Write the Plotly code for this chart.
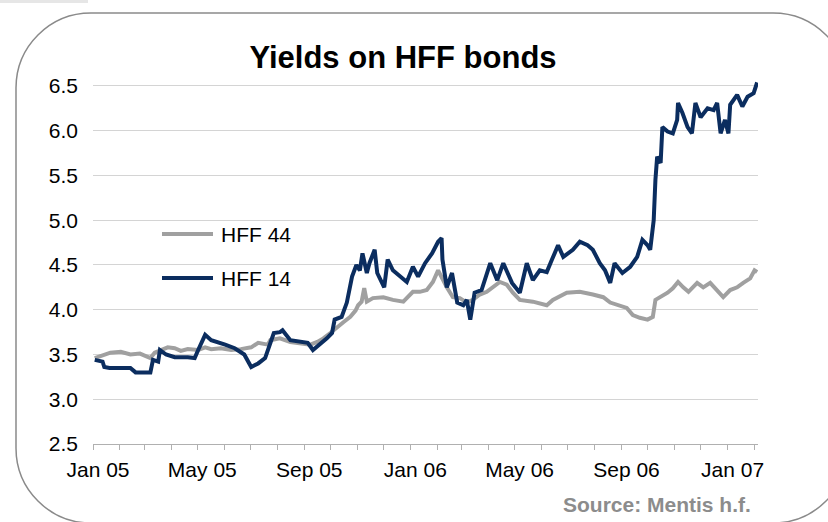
import plotly.graph_objects as go
import pandas as pd

# ---------------- data ----------------
hff44_dates = [
    "2005-01-03", "2005-01-21", "2005-02-02", "2005-02-13", "2005-02-24", "2005-03-08",
    "2005-03-13", "2005-03-28", "2005-04-05", "2005-04-12", "2005-04-20", "2005-05-02",
    "2005-05-10", "2005-05-17", "2005-05-28", "2005-06-09", "2005-06-20", "2005-07-02",
    "2005-07-10", "2005-07-21", "2005-07-24", "2005-08-04", "2005-08-16", "2005-08-27",
    "2005-09-08", "2005-09-16", "2005-09-23", "2005-10-01", "2005-10-09", "2005-10-16",
    "2005-10-24", "2005-10-30", "2005-11-02", "2005-11-06", "2005-11-09", "2005-11-12",
    "2005-11-19", "2005-12-01", "2005-12-12", "2005-12-24", "2005-12-29", "2006-01-04",
    "2006-01-12", "2006-01-20", "2006-01-27", "2006-02-02", "2006-02-12", "2006-02-19",
    "2006-02-27", "2006-03-07", "2006-03-14", "2006-03-22", "2006-03-30", "2006-04-06",
    "2006-04-14", "2006-04-22", "2006-04-29", "2006-05-07", "2006-05-22", "2006-06-07",
    "2006-06-14", "2006-06-30", "2006-07-15", "2006-07-30", "2006-08-11", "2006-08-19",
    "2006-08-30", "2006-09-07", "2006-09-14", "2006-09-22", "2006-10-01", "2006-10-07",
    "2006-10-10", "2006-10-16", "2006-10-24", "2006-10-30", "2006-11-05", "2006-11-11",
    "2006-11-17", "2006-11-27", "2006-12-04", "2006-12-12", "2006-12-20", "2006-12-27",
    "2007-01-04", "2007-01-12", "2007-01-19", "2007-01-27", "2007-02-01", "2007-02-04",
]
hff44_values = [
    3.46, 3.52, 3.53, 3.50, 3.51, 3.46,
    3.52, 3.58, 3.57, 3.54, 3.56, 3.55,
    3.58, 3.56, 3.57, 3.55, 3.56, 3.58,
    3.63, 3.61, 3.66, 3.68, 3.64, 3.63,
    3.61, 3.64, 3.68, 3.74, 3.81, 3.86,
    3.92, 3.99, 4.05, 4.09, 4.24, 4.09,
    4.13, 4.14, 4.11, 4.09, 4.14, 4.20,
    4.20, 4.22, 4.31, 4.44, 4.25, 4.14,
    4.13, 4.08, 4.11, 4.17, 4.20, 4.25,
    4.31, 4.28, 4.19, 4.11, 4.09, 4.05,
    4.11, 4.19, 4.20, 4.17, 4.14, 4.08,
    4.05, 4.02, 3.94, 3.91, 3.89, 3.92,
    4.11, 4.14, 4.19, 4.24, 4.31, 4.25,
    4.20, 4.30, 4.25, 4.30, 4.22, 4.14,
    4.22, 4.25, 4.30, 4.35, 4.44, 4.42,
]

hff14_dates = [
    "2005-01-03", "2005-01-12", "2005-01-14", "2005-01-20", "2005-02-13", "2005-02-19",
    "2005-03-08", "2005-03-11", "2005-03-17", "2005-03-19", "2005-03-26", "2005-04-05",
    "2005-04-20", "2005-04-28", "2005-05-02", "2005-05-10", "2005-05-17", "2005-05-25",
    "2005-06-02", "2005-06-13", "2005-06-20", "2005-06-24", "2005-07-02", "2005-07-10",
    "2005-07-18", "2005-07-28", "2005-08-04", "2005-08-07", "2005-08-16", "2005-08-27",
    "2005-09-05", "2005-09-11", "2005-09-19", "2005-09-27", "2005-10-03", "2005-10-06",
    "2005-10-14", "2005-10-20", "2005-10-26", "2005-10-31", "2005-11-04", "2005-11-07",
    "2005-11-12", "2005-11-15", "2005-11-21", "2005-11-24", "2005-12-02", "2005-12-06",
    "2005-12-12", "2005-12-20", "2005-12-28", "2006-01-04", "2006-01-10", "2006-01-18",
    "2006-01-26", "2006-02-02", "2006-02-06", "2006-02-07", "2006-02-12", "2006-02-18",
    "2006-02-24", "2006-03-03", "2006-03-07", "2006-03-11", "2006-03-16", "2006-03-24",
    "2006-03-30", "2006-04-03", "2006-04-11", "2006-04-18", "2006-04-28", "2006-05-07",
    "2006-05-15", "2006-05-22", "2006-05-30", "2006-06-07", "2006-06-13", "2006-06-20",
    "2006-06-26", "2006-07-07", "2006-07-15", "2006-07-24", "2006-07-30", "2006-08-07",
    "2006-08-13", "2006-08-19", "2006-08-24", "2006-09-02", "2006-09-11", "2006-09-19",
    "2006-09-25", "2006-10-01", "2006-10-04", "2006-10-08", "2006-10-10", "2006-10-12",
    "2006-10-16", "2006-10-18", "2006-10-24", "2006-10-30", "2006-11-04", "2006-11-05",
    "2006-11-10", "2006-11-16", "2006-11-21", "2006-11-25", "2006-12-01", "2006-12-09",
    "2006-12-16", "2006-12-20", "2006-12-24", "2006-12-29", "2007-01-02", "2007-01-04",
    "2007-01-12", "2007-01-18", "2007-01-24", "2007-01-31", "2007-02-04",
]
hff14_values = [
    3.44, 3.42, 3.36, 3.35, 3.35, 3.30,
    3.30, 3.44, 3.42, 3.55, 3.50, 3.47,
    3.47, 3.46, 3.55, 3.72, 3.66, 3.64,
    3.61, 3.57, 3.53, 3.50, 3.36, 3.40,
    3.46, 3.74, 3.75, 3.77, 3.66, 3.64,
    3.63, 3.55, 3.61, 3.68, 3.74, 3.89,
    3.92, 4.08, 4.37, 4.50, 4.44, 4.63,
    4.41, 4.52, 4.67, 4.41, 4.25, 4.56,
    4.44, 4.37, 4.31, 4.48, 4.37, 4.52,
    4.63, 4.76, 4.80, 4.56, 4.25, 4.41,
    4.08, 4.05, 4.11, 3.89, 4.19, 4.22,
    4.39, 4.52, 4.33, 4.52, 4.30, 4.19,
    4.52, 4.33, 4.44, 4.42, 4.56, 4.72,
    4.59, 4.67, 4.76, 4.72, 4.67, 4.52,
    4.44, 4.30, 4.52, 4.41, 4.48, 4.59,
    4.78, 4.72, 4.67, 5.00, 5.45, 5.71,
    5.64, 6.04, 5.99, 5.97, 6.12, 6.31,
    6.20, 6.04, 5.97, 6.31, 6.15, 6.25,
    6.23, 6.31, 5.97, 6.12, 5.97, 6.29,
    6.40, 6.27, 6.38, 6.42, 6.54,
]

series_names = ["HFF 44", "HFF 14"]
series_colors = ["#a0a0a0", "#0b2d5f"]
y_tick_values = [2.5, 3.0, 3.5, 4.0, 4.5, 5.0, 5.5, 6.0, 6.5]
x_label_months = {1: "Jan", 5: "May", 9: "Sep"}

# ---------------- layout geometry ----------------
W, H = 828, 522
PL, PR, PT, PB = 93, 758, 77, 444          # plot area in pixels
FONT = "Liberation Sans, Arial, sans-serif"


def paper(px, py):
    return (px - PL) / (PR - PL), (PB - py) / (PB - PT)


fig = go.Figure()
for name, color, xs, ys in [
    (series_names[0], series_colors[0], hff44_dates, hff44_values),
    (series_names[1], series_colors[1], hff14_dates, hff14_values),
]:
    fig.add_trace(go.Scatter(
        x=pd.to_datetime(xs), y=ys, mode="lines", name=name,
        line=dict(color=color, width=4), showlegend=False,
    ))

# monthly ticks, labels every four months
month_ticks = pd.date_range("2005-01-01", "2007-02-01", freq="MS")
tick_text = [f"{x_label_months[d.month]} {d.strftime('%y')}" if d.month in x_label_months else ""
             for d in month_ticks]

fig.update_xaxes(
    range=["2005-01-01", "2007-02-05"],
    tickvals=month_ticks, ticktext=tick_text,
    ticks="outside", ticklen=5, tickcolor="#b0b0b0", tickwidth=1,
    showline=True, linecolor="#b0b0b0", linewidth=1,
    showgrid=False, zeroline=False,
    ticklabelshift=5, ticklabelstandoff=2,
    tickfont=dict(family=FONT, size=21, color="#000000"),
)
fig.update_yaxes(
    range=[2.5, 6.6],
    tickvals=y_tick_values, tickformat=".1f",
    showgrid=True, gridcolor="#d4d4d4", gridwidth=1,
    showline=False, zeroline=False, ticks="",
    ticklabelstandoff=14,
    tickfont=dict(family=FONT, size=21, color="#000000"),
)

# rounded border
L, T, R_, B, RAD = 16, 13, 848, 523, 75
k = 0.5523 * RAD


def pt(x, y):
    a, b = paper(x, y)
    return f"{a:.5f},{b:.5f}"


path = (
    f"M {pt(L + RAD, T)} L {pt(R_ - RAD, T)} "
    f"C {pt(R_ - RAD + k, T)} {pt(R_, T + RAD - k)} {pt(R_, T + RAD)} "
    f"L {pt(R_, B - RAD)} "
    f"C {pt(R_, B - RAD + k)} {pt(R_ - RAD + k, B)} {pt(R_ - RAD, B)} "
    f"L {pt(L + RAD, B)} "
    f"C {pt(L + RAD - k, B)} {pt(L, B - RAD + k)} {pt(L, B - RAD)} "
    f"L {pt(L, T + RAD)} "
    f"C {pt(L, T + RAD - k)} {pt(L + RAD - k, T)} {pt(L + RAD, T)} Z"
)
shapes = [dict(type="path", path=path, xref="paper", yref="paper",
               line=dict(color="#8a8a8a", width=1.5), layer="below")]

# faint strip at the top-left edge of the picture
sx0, sy0 = paper(0, 0)
sx1, sy1 = paper(88, 3)
shapes.append(dict(type="rect", xref="paper", yref="paper", x0=sx0, x1=sx1, y0=sy1, y1=sy0,
                   line=dict(width=0), fillcolor="#e6e6e6", layer="below"))

# legend (drawn manually to match the long legend keys)
legend_rows = [234, 278]
annotations = []
for name, color, yrow in zip(series_names, series_colors, legend_rows):
    x0, y0 = paper(162, yrow)
    x1, _ = paper(213, yrow)
    shapes.append(dict(type="line", xref="paper", yref="paper", x0=x0, x1=x1, y0=y0, y1=y0,
                       line=dict(color=color, width=4)))
    tx, ty = paper(219, yrow)
    annotations.append(dict(text=name, xref="paper", yref="paper", x=tx, y=ty,
                            xanchor="left", yanchor="middle", showarrow=False,
                            font=dict(family=FONT, size=21, color="#000000")))

sx, sy = paper(753, 505)
annotations.append(dict(text="<b>Source: Mentis h.f.</b>", xref="paper", yref="paper",
                        x=sx, y=sy, xanchor="right", yanchor="middle", showarrow=False,
                        font=dict(family=FONT, size=21, color="#8c8c8c")))

fig.update_layout(
    width=W, height=H,
    margin=dict(l=PL, r=W - PR, t=PT, b=H - PB, pad=0),
    paper_bgcolor="#ffffff", plot_bgcolor="#ffffff",
    title=dict(text="<b>Yields on HFF bonds</b>", x=403 / W, xanchor="center",
               y=1 - 57 / H, yanchor="middle", yref="container",
               font=dict(family=FONT, size=31, color="#000000")),
    shapes=shapes, annotations=annotations,
    showlegend=False,
)

fig.write_html("out.html", config={"displayModeBar": False},
               post_script="document.body.style.margin='0';")
